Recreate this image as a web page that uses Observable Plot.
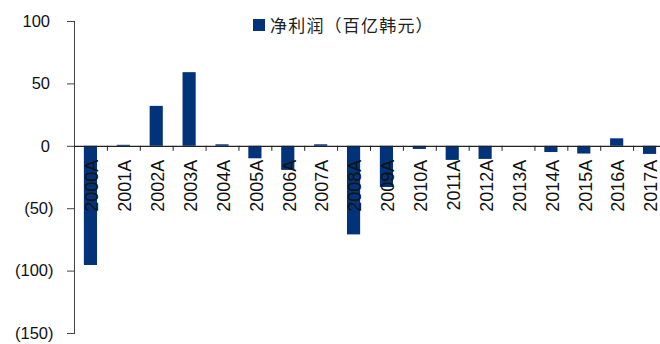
<!DOCTYPE html>
<html>
<head>
<meta charset="utf-8">
<script src="https://cdn.jsdelivr.net/npm/d3@7"></script>
<script src="https://cdn.jsdelivr.net/npm/@observablehq/plot@0.6"></script>
<style>
  html, body { margin: 0; padding: 0; background: #fff; overflow: hidden; }
  #chart { position: relative; width: 660px; height: 344px; }
  .legend {
    position: absolute; left: 253px; top: 15px;
    display: flex; align-items: center; gap: 5px;
    font-family: "Noto Sans CJK SC", sans-serif; font-size: 17px; color: #222;
    letter-spacing: 1.2px; line-height: 20px;
  }
  .legend .swatch { width: 12px; height: 12px; background: #00337a; }
</style>
</head>
<body>
<div id="chart"></div>
<script>
// Annual net profit, hundred-million KRW (negative = loss)
const years = ["2000A","2001A","2002A","2003A","2004A","2005A","2006A","2007A","2008A",
               "2009A","2010A","2011A","2012A","2013A","2014A","2015A","2016A","2017A"];
const netProfit = [-95.5, 0.8, 32, 59, 1.2, -10, -19.3, 1.2, -71,
                   -33, -2.5, -11.3, -10.5, 0, -5, -6.2, 6, -6.5];
const yTicks = [100, 50, 0, -50, -100, -150];
const seriesName = "净利润（百亿韩元）";

const data = years.map((year, i) => ({year, value: netProfit[i]}));

const barColor = "#00337a";
const font = "Arial, 'Liberation Sans', sans-serif";
const width = 660, height = 344;
const marginLeft = 74, marginTop = 21, marginBottom = 11;
const xRange = [marginLeft, 666];
const step = (xRange[1] - xRange[0]) / years.length;

const fmt = v => v < 0 ? `(${Math.abs(v)})` : `${v}`;

const chart = Plot.plot({
  width, height,
  marginLeft, marginTop, marginBottom, marginRight: 0,
  style: {fontFamily: font, background: "white", overflow: "visible"},
  x: {domain: years, range: xRange, paddingInner: 0.6, paddingOuter: 0.3, round: false, axis: null},
  y: {domain: [-150, 100], axis: null},
  marks: [
    Plot.barY(data, {x: "year", y: "value", fill: barColor}),
    // left axis line
    Plot.frame({anchor: "left", stroke: "#444", strokeWidth: 1}),
    // y ticks and labels; positive labels leave room for the closing parenthesis
    Plot.axisY(yTicks, {tickSize: 7, stroke: "#444", tickFormat: () => "", label: null}),
    Plot.axisY(yTicks.filter(v => v < 0), {tickSize: 0, tickPadding: 21, tickFormat: fmt, fontSize: 16.5, fill: "#111", label: null}),
    Plot.axisY(yTicks.filter(v => v >= 0), {tickSize: 0, tickPadding: 24.5, tickFormat: fmt, fontSize: 16.5, fill: "#111", label: null}),
    // zero line
    Plot.ruleY([0], {stroke: "#222", strokeWidth: 1.3}),
    // category separators below the zero line
    Plot.ruleX(years, {x: d => d, y1: 0, y2: -4, dx: step / 2, stroke: "#222", strokeWidth: 1}),
    // rotated category labels hanging from the zero line
    Plot.text(years, {x: d => d, y: 0, text: d => d, rotate: -90, textAnchor: "end",
                      dx: 1.5, dy: 13.5, fontSize: 18, fill: "#111"})
  ]
});

const root = document.getElementById("chart");
root.appendChild(chart);

const legend = document.createElement("div");
legend.className = "legend";
legend.innerHTML = `<span class="swatch"></span><span>${seriesName}</span>`;
root.appendChild(legend);
</script>
</body>
</html>
